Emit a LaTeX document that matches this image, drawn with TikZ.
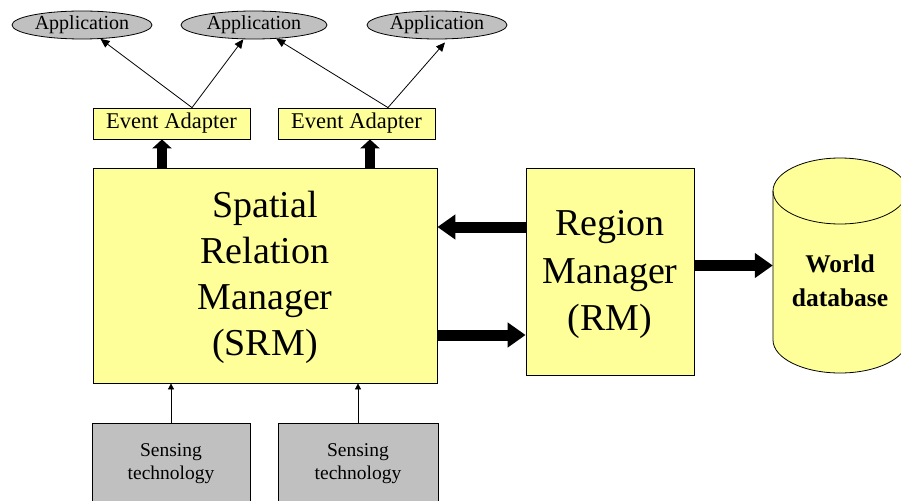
\documentclass[tikz,border=0pt]{standalone}
\usepackage{fontspec}
\setmainfont{Liberation Serif}
\usetikzlibrary{shapes.geometric,arrows.meta}

\definecolor{paleyellow}{RGB}{255,255,153}
\definecolor{boxgray}{RGB}{192,192,192}

\tikzset{
  app/.style={ellipse, draw=black, line width=0.8pt, fill=boxgray, inner sep=0pt,
    minimum height=28pt, font=\fontsize{20}{22}\selectfont},
  adapter/.style={rectangle, draw=black, line width=0.8pt, fill=paleyellow, inner sep=0pt,
    minimum width=157pt, minimum height=31pt, font=\fontsize{22.5}{24}\selectfont},
  manager/.style={rectangle, draw=black, line width=0.8pt, fill=paleyellow, inner sep=0pt,
    align=center},
  sensor/.style={rectangle, draw=black, line width=0.8pt, fill=boxgray, inner sep=0pt,
    align=center, minimum height=82pt, font=\fontsize{19.5}{23}\selectfont},
  thinarrow/.style={draw=black, line width=0.8pt, -{Triangle[length=9pt,width=8pt]}},
  smallarrow/.style={draw=black, line width=0.8pt, -{Triangle[length=6pt,width=6pt]}},
  bigarrow/.style={draw=black, line width=11pt, -{Triangle[length=18pt,width=24pt]}},
  uparrow/.style={draw=black, line width=10pt, -{Triangle[length=9pt,width=19pt]}},
}

\begin{document}
\begin{tikzpicture}[x=1pt, y=-1pt]
  \clip (0,0) rectangle (901,500);
  \fill[white] (0,0) rectangle (901,500);

  % applications
  \node[app, minimum width=140pt] (app1) at (82,25) {Application};
  \node[app, minimum width=146pt] (app2) at (254,25) {Application};
  \node[app, minimum width=140pt] (app3) at (437,25) {Application};

  % event adapters
  \node[adapter] (ea1) at (171.5,123.5) {Event Adapter};
  \node[adapter] (ea2) at (356.5,123.5) {Event Adapter};

  % managers
  \node[manager, minimum width=344pt, minimum height=215pt] (srm) at (265,275.5) {};
  \node[align=center, font=\fontsize{38}{46}\selectfont] at ([yshift=-2pt]srm.center)
    {Spatial\\Relation\\Manager\\(SRM)};
  \node[manager, minimum width=168pt, minimum height=207pt] (rm) at (610,271.5) {};
  \node[align=center, font=\fontsize{38}{47.5}\selectfont] at ([yshift=-3pt]rm.center)
    {Region\\Manager\\(RM)};

  % world database (cylinder drawn around the text node)
  \node[inner sep=0pt, minimum width=134pt, minimum height=215pt] (db) at (840,265.5) {};
  \filldraw[fill=paleyellow, draw=black, line width=0.8pt]
    (773,191) -- (773,340) arc[start angle=180, end angle=360, x radius=67pt, y radius=33pt]
    -- (907,191) arc[start angle=0, end angle=180, x radius=67pt, y radius=33pt] -- cycle;
  \draw[black, line width=0.8pt] (773,191) arc[start angle=180, end angle=360, x radius=67pt, y radius=33pt];
  \node[align=center, font=\bfseries\fontsize{25.5}{34}\selectfont] at ([yshift=-15pt]db.center)
    {World\\database};

  % sensing technology
  \node[sensor, minimum width=158pt] (sense1) at (171,464) {Sensing\\technology};
  \node[sensor, minimum width=160pt] (sense2) at (358,464) {Sensing\\technology};

  % connectors
  \draw[thinarrow] ([xshift=20.5pt]ea1.north) -- (app1);
  \draw[thinarrow] ([xshift=20.5pt]ea1.north) -- (app2);
  \draw[thinarrow] ([xshift=31.5pt]ea2.north) -- (app2);
  \draw[thinarrow] ([xshift=31.5pt]ea2.north) -- ([xshift=8pt,yshift=-3pt]app3.south);

  \draw[uparrow] ([xshift=-9.5pt]ea1.south |- srm.north) -- ([xshift=-9.5pt]ea1.south);
  \draw[uparrow] ([xshift=13.5pt]ea2.south |- srm.north) -- ([xshift=13.5pt]ea2.south);

  \draw[bigarrow] ([yshift=44.5pt]rm.west) -- ([yshift=44.5pt]rm.west -| srm.east);
  \draw[bigarrow] ([yshift=-63.5pt]rm.west -| srm.east) -- ([yshift=-63.5pt]rm.west);
  \draw[bigarrow] (rm.east |- db.west) -- (db.west);

  \draw[smallarrow] (sense1.north) -- (sense1.north |- srm.south);
  \draw[smallarrow] (sense2.north) -- (sense2.north |- srm.south);
\end{tikzpicture}
\end{document}
